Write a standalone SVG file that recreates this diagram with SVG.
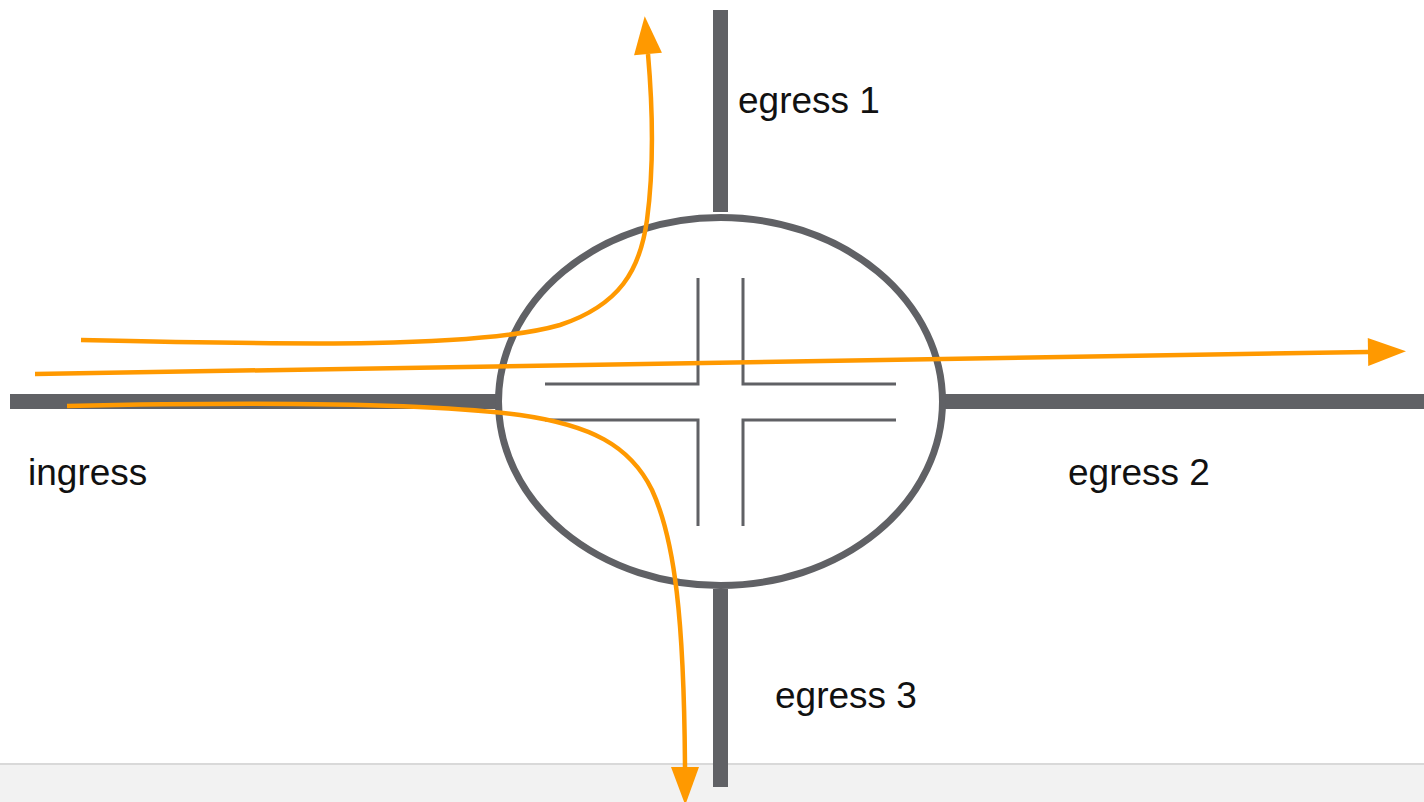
<svg xmlns="http://www.w3.org/2000/svg" width="1424" height="802" viewBox="0 0 1424 802">
<defs>
<style>
.road{fill:#606165;}
.ring{fill:none;stroke:#606165;stroke-width:7;}
.lane{fill:none;stroke:#606165;stroke-width:3;}
.flow{fill:none;stroke:#ff9900;stroke-width:4.5;}
.lbl{font-family:"Liberation Sans",Arial,sans-serif;font-size:37px;fill:#111;}
</style>
<marker id="ah" viewBox="0 0 10 10" refX="0" refY="5" markerWidth="10" markerHeight="10" markerUnits="userSpaceOnUse" orient="auto" overflow="visible">
<path d="M0,-9 L38,5 L0,19 Z" fill="#ff9900"/>
</marker>
</defs>
<rect x="0" y="0" width="1424" height="802" fill="#ffffff"/>
<rect x="0" y="764" width="1424" height="38" fill="#f2f2f2"/>
<rect x="0" y="763" width="1424" height="2" fill="#d9d9d9"/>
<g id="roads">
<rect class="road" x="10" y="394" width="488" height="15"/>
<rect class="road" x="944" y="394" width="480" height="15"/>
<rect class="road" x="713" y="10" width="15" height="202"/>
<rect class="road" x="713" y="589" width="15" height="198"/>
</g>
<g id="roundabout">
<ellipse class="ring" cx="720.5" cy="401.5" rx="222" ry="184"/>
<path class="lane" d="M698,278 V384 H545 M743,278 V384 H896 M698,526 V420 H545 M743,526 V420 H896"/>
</g>
<g id="labels">
<text class="lbl" x="738" y="113">egress 1</text>
<text class="lbl" x="28" y="485">ingress</text>
<text class="lbl" x="1068" y="485">egress 2</text>
<text class="lbl" x="775" y="708">egress 3</text>
</g>
<g id="connectors">
<path class="flow" d="M35,374 L1368,352" marker-end="url(#ah)"/>
<path class="flow" d="M81,340 C300,345 480,348 560,325 C620,305 640,270 647,220 C655,160 652,100 648,54" marker-end="url(#ah)"/>
<path class="flow" d="M67,406 C250,402 420,402 520,415 C590,425 630,445 652,490 C675,540 684,620 685,767" marker-end="url(#ah)"/>
</g>
</svg>
